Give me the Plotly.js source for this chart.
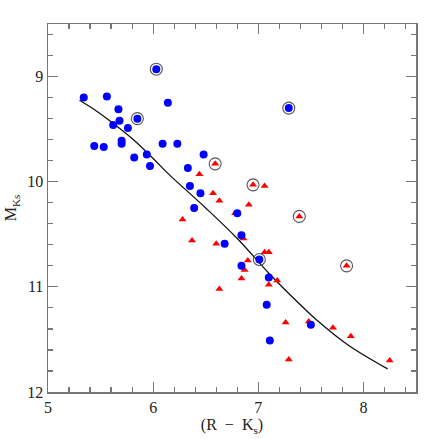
<!DOCTYPE html>
<html>
<head>
<meta charset="utf-8">
<script src="https://cdn.plot.ly/plotly-3.0.1.min.js"></script>
<style>
  html, body { margin: 0; padding: 0; background: #fff; }
  #chart { width: 439px; height: 439px; }
</style>
</head>
<body>
<div id="chart"></div>
<script>
// blue points
const blueX = [5.34, 5.56, 5.44, 5.53, 5.67, 5.68, 5.62, 5.76, 5.70, 5.70, 5.85, 6.03, 6.14, 5.82, 5.94, 5.97,
               6.09, 6.23, 6.48, 6.33, 6.35, 6.45, 6.39, 7.29, 6.80, 6.84, 6.68, 7.01, 6.84, 7.10, 7.08, 7.50, 7.11];
const blueY = [9.20, 9.19, 9.66, 9.67, 9.31, 9.42, 9.46, 9.49, 9.61, 9.64, 9.40, 8.93, 9.25, 9.77, 9.74, 9.85,
               9.64, 9.64, 9.74, 9.87, 10.04, 10.11, 10.25, 9.30, 10.30, 10.51, 10.59, 10.74, 10.80, 10.91, 11.17, 11.36, 11.51];

// red triangles
const redX = [6.59, 6.44, 6.57, 6.63, 6.95, 7.06, 6.91, 7.39, 6.28, 6.37, 6.60, 6.63, 6.78, 6.86, 7.06, 7.10,
              6.90, 7.84, 6.87, 6.84, 7.18, 7.10, 7.26, 7.48, 7.71, 7.88, 7.29, 8.25];
const redY = [9.83, 9.93, 10.11, 10.18, 10.03, 10.04, 10.22, 10.33, 10.36, 10.56, 10.59, 11.02, 10.30, 10.54, 10.67, 10.67,
              10.75, 10.80, 10.84, 10.92, 10.94, 10.98, 11.34, 11.33, 11.39, 11.47, 11.69, 11.70];

// encircled objects
const ringX = [6.03, 5.85, 7.29, 6.59, 6.95, 7.39, 7.84, 7.01];
const ringY = [8.93, 9.40, 9.30, 9.83, 10.03, 10.33, 10.80, 10.74];

// fitted relation
const fitX = [5.30, 5.45, 5.60, 5.80, 6.00, 6.15, 6.50, 6.80, 7.10, 7.40, 7.55, 7.85, 8.23];
const fitY = [9.225, 9.32, 9.43, 9.59, 9.78, 9.93, 10.25, 10.54, 10.87, 11.17, 11.31, 11.55, 11.78];

const serif = 'Liberation Serif';

const traces = [
  { x: fitX, y: fitY, mode: 'lines', line: { color: '#111', width: 1.3, shape: 'spline' }, hoverinfo: 'skip' },
  { x: redX, y: redY, mode: 'markers', marker: { symbol: 'triangle-up', color: '#ff0000', size: 7 } },
  { x: blueX, y: blueY, mode: 'markers', marker: { symbol: 'circle', color: '#0000ff', size: 8 } },
  { x: ringX, y: ringY, mode: 'markers', marker: { symbol: 'circle-open', color: '#555', size: 12, line: { width: 1.1, color: '#555' } } }
];

const axisCommon = {
  showgrid: false,
  zeroline: false,
  showline: true,
  linecolor: '#777',
  linewidth: 1.5,
  mirror: 'ticks',
  ticks: 'inside',
  ticklen: 10,
  tickwidth: 1.2,
  tickcolor: '#777',
  minor: { ticks: 'inside', ticklen: 5, tickwidth: 1.2, tickcolor: '#777', dtick: 0.2, showgrid: false }
};

const layout = {
  width: 439,
  height: 439,
  margin: { l: 48, r: 23, t: 24, b: 47 },
  paper_bgcolor: '#fff',
  plot_bgcolor: '#fff',
  showlegend: false,
  font: { family: serif, size: 16, color: '#222' },
  xaxis: Object.assign({}, axisCommon, {
    range: [5, 8.5],
    tickvals: [5, 6, 7, 8],
    ticktext: ['5', '6', '7', '8'],
    tickfont: { family: serif, size: 16, color: '#222' },
    title: { text: '(R  \u2212  K<sub>s</sub>)', font: { family: serif, size: 16, color: '#222' }, standoff: 4 }
  }),
  yaxis: Object.assign({}, axisCommon, {
    range: [12, 8.5],
    tickvals: [9, 10, 11, 12],
    ticktext: ['9', '10', '11', '12'],
    tickfont: { family: serif, size: 16, color: '#222' },
    title: { text: 'M<sub>Ks</sub>', font: { family: serif, size: 16, color: '#222' }, standoff: 6 }
  })
};

Plotly.newPlot('chart', traces, layout, { displayModeBar: false, staticPlot: true });
</script>
</body>
</html>
